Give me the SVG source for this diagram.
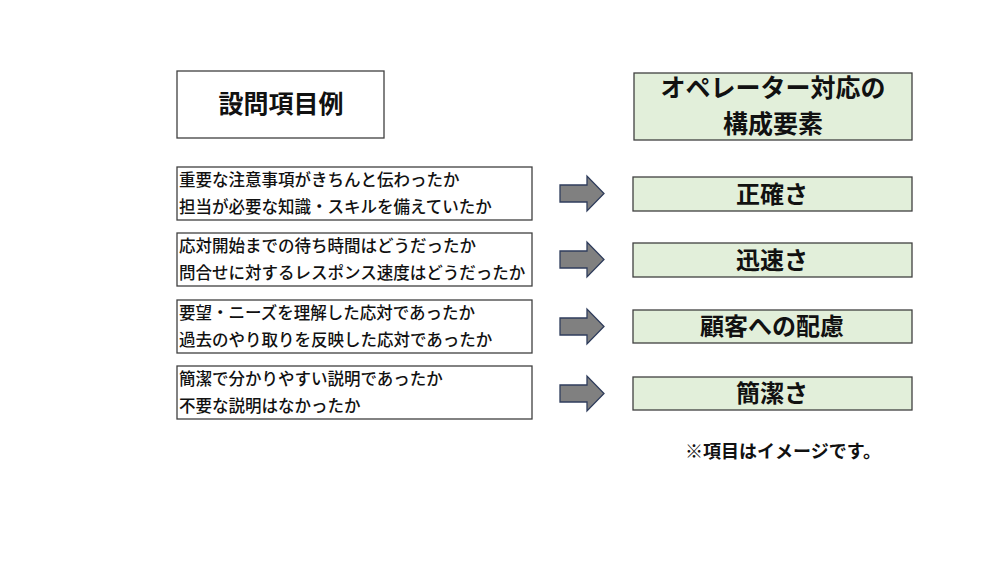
<svg xmlns="http://www.w3.org/2000/svg" width="1000" height="563" viewBox="0 0 1000 563">
<style>
.wbox{fill:#ffffff;stroke:#404040;stroke-width:1.3}
.gbox{fill:#e2efda;stroke:#404040;stroke-width:1.3}
.t{font-family:"Noto Sans CJK JP","Noto Sans CJK SC",sans-serif;fill:#111111}
.h{font-size:25px;font-weight:bold;text-anchor:middle}
.g{font-size:24px;font-weight:bold;text-anchor:middle}
.q{font-size:16.5px;font-weight:500}
.n{font-size:18px;font-weight:bold;text-anchor:middle}
.arr{fill:#808080;stroke:#2f3d5c;stroke-width:1.3}
</style>
<rect width="1000" height="563" fill="#ffffff"/>
<g id="header-left">
<rect class="wbox" x="177" y="71" width="207" height="67"/>
<text class="t h" x="281" y="113">設問項目例</text>
</g>
<g id="header-right">
<rect class="gbox" x="634" y="73" width="278" height="67"/>
<text class="t h" x="773" y="97">オペレーター対応の</text>
<text class="t h" x="773" y="133">構成要素</text>
</g>
<g id="q1">
<rect class="wbox" x="177" y="167" width="355" height="53"/>
<text class="t q" x="179" y="186">重要な注意事項がきちんと伝わったか</text>
<text class="t q" x="179" y="213">担当が必要な知識・スキルを備えていたか</text>
</g>
<g id="q2">
<rect class="wbox" x="177" y="233" width="355" height="53"/>
<text class="t q" x="179" y="252">応対開始までの待ち時間はどうだったか</text>
<text class="t q" x="179" y="279">問合せに対するレスポンス速度はどうだったか</text>
</g>
<g id="q3">
<rect class="wbox" x="177" y="300" width="355" height="53"/>
<text class="t q" x="179" y="319">要望・ニーズを理解した応対であったか</text>
<text class="t q" x="179" y="346">過去のやり取りを反映した応対であったか</text>
</g>
<g id="q4">
<rect class="wbox" x="177" y="366" width="355" height="53"/>
<text class="t q" x="179" y="385">簡潔で分かりやすい説明であったか</text>
<text class="t q" x="179" y="412">不要な説明はなかったか</text>
</g>
<g id="c1">
<rect class="gbox" x="633" y="177" width="279" height="34"/>
<text class="t g" x="772" y="202.5">正確さ</text>
</g>
<g id="c2">
<rect class="gbox" x="633" y="243" width="279" height="34"/>
<text class="t g" x="772" y="268.5">迅速さ</text>
</g>
<g id="c3">
<rect class="gbox" x="633" y="310" width="279" height="33"/>
<text class="t g" x="772" y="335">顧客への配慮</text>
</g>
<g id="c4">
<rect class="gbox" x="633" y="377" width="279" height="33"/>
<text class="t g" x="772" y="402">簡潔さ</text>
</g>
<g id="connectors">
<polygon class="arr" points="560,185 587,185 587,176 604,193.5 587,211 587,202 560,202"/>
<polygon class="arr" points="560,251 587,251 587,242 604,259.5 587,277 587,268 560,268"/>
<polygon class="arr" points="560,318 587,318 587,309 604,326.5 587,344 587,335 560,335"/>
<polygon class="arr" points="560,385 587,385 587,376 604,393.5 587,411 587,402 560,402"/>
</g>
<text class="t n" x="783" y="458">※項目はイメージです。</text>
</svg>
